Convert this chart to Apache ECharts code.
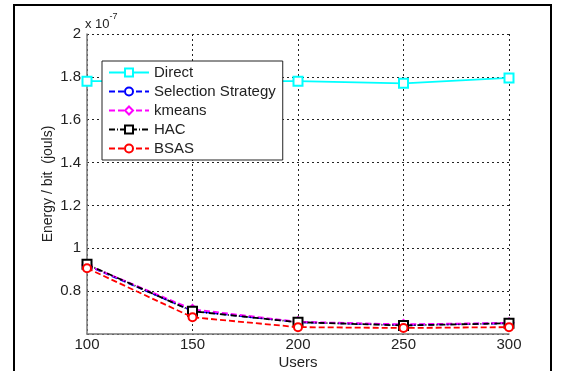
<!DOCTYPE html>
<html>
<head>
<meta charset="utf-8">
<script src="https://cdn.jsdelivr.net/npm/echarts@6/dist/echarts.min.js"></script>
<style>
  html, body { margin: 0; padding: 0; background: #fff; }
  #main { width: 563px; height: 371px; }
</style>
</head>
<body>
<div id="main"></div>
<script>
// users on x axis, energy per bit in units of 1e-7
var users = [100, 150, 200, 250, 300];
var direct = [1.78, 1.78, 1.78, 1.77, 1.795];
var selection = [0.92, 0.708, 0.655, 0.642, 0.65];
var kmeans = [0.922, 0.715, 0.657, 0.645, 0.652];
var hac = [0.925, 0.706, 0.655, 0.64, 0.65];
var bsas = [0.907, 0.678, 0.632, 0.628, 0.632];
var xTicks = [100, 150, 200, 250, 300];
var yTicks = [0.6, 0.8, 1, 1.2, 1.4, 1.6, 1.8, 2];

function pairs(vals) {
    return users.map(function (u, i) { return [u, vals[i]]; });
}

var font = 'Liberation Sans, Arial, sans-serif';

var option = {
    animation: false,
    backgroundColor: '#fff',
    grid: {
        left: 87,
        right: 54,
        top: 34,
        bottom: 37,
        outerBoundsMode: 'none',
        containLabel: false
    },
    xAxis: {
        type: 'value',
        min: xTicks[0],
        max: xTicks[xTicks.length - 1],
        interval: 50,
        name: 'Users',
        nameLocation: 'middle',
        nameGap: 21,
        nameMoveOverlap: false,
        nameTextStyle: { color: '#222', fontSize: 15, fontFamily: font },
        // axis line
        axisLine: { show: true, lineStyle: { color: '#7a7a7a', width: 1.5 } },
        axisTick: { show: false },
        axisLabel: { color: '#222', fontSize: 15, fontFamily: font, margin: 3 },
        splitLine: {
            show: true,
            lineStyle: { color: '#222', type: [2, 3], width: 1 }
        }
    },
    yAxis: {
        type: 'value',
        min: yTicks[0],
        max: yTicks[yTicks.length - 1],
        interval: 0.2,
        name: 'Energy / bit  (jouls)',
        nameLocation: 'middle',
        nameGap: 32,
        nameMoveOverlap: false,
        nameTextStyle: { color: '#222', fontSize: 14, fontFamily: font },
        axisLine: { show: true, lineStyle: { color: '#7a7a7a', width: 1.5 } },
        axisTick: { show: false },
        axisLabel: {
            color: '#222', fontSize: 15, fontFamily: font, margin: 6,
            showMinLabel: false
        },
        splitLine: {
            show: true,
            lineStyle: { color: '#222', type: [2, 3], width: 1 }
        }
    },
    legend: {
        orient: 'vertical',
        left: 102,
        top: 61,
        padding: [3, 7, 3, 6],
        itemGap: 2,
        itemWidth: 40,
        itemHeight: 10,
        backgroundColor: '#fff',
        borderColor: '#222',
        borderWidth: 1,
        borderRadius: 0,
        textStyle: { color: '#222', fontSize: 15, fontFamily: font, lineHeight: 17 },
        data: ['Direct', 'Selection Strategy', 'kmeans', 'HAC', 'BSAS']
    },
    graphic: [
        {
            type: 'rect',
            shape: { x: 14, y: 5, width: 537, height: 380 },
            style: { fill: 'none', stroke: '#000', lineWidth: 2 },
            silent: true
        },
        {
            type: 'text',
            left: 85,
            top: 12,
            style: {
                text: '{b|x 10}{s|-7}',
                rich: {
                    b: { fontSize: 13, fontFamily: font, fill: '#222', verticalAlign: 'bottom', padding: [6, 0, 0, 0] },
                    s: { fontSize: 9, fontFamily: font, fill: '#222', verticalAlign: 'top' }
                }
            }
        }
    ],
    series: [
        {
            name: 'Direct',
            type: 'line',
            data: pairs(direct),
            symbol: 'emptyRect',
            symbolSize: 9,
            color: '#00ffff',
            lineStyle: { width: 1.8, type: 'solid' },
            itemStyle: { borderWidth: 1.5 },
            z: 2
        },
        {
            name: 'Selection Strategy',
            type: 'line',
            data: pairs(selection),
            symbol: 'emptyCircle',
            symbolSize: 8,
            color: '#0000ff',
            lineStyle: { width: 1.8, type: [6, 3] },
            itemStyle: { borderWidth: 1.5 },
            z: 3
        },
        {
            name: 'kmeans',
            type: 'line',
            data: pairs(kmeans),
            symbol: 'emptyDiamond',
            symbolSize: 9,
            color: '#ff00ff',
            lineStyle: { width: 1.8, type: [6, 3] },
            itemStyle: { borderWidth: 1.5 },
            z: 4
        },
        {
            name: 'HAC',
            type: 'line',
            data: pairs(hac),
            symbol: 'emptyRect',
            symbolSize: 9,
            color: '#000000',
            lineStyle: { width: 1.8, type: [6, 2, 1, 2] },
            itemStyle: { borderWidth: 1.5 },
            z: 5
        },
        {
            name: 'BSAS',
            type: 'line',
            data: pairs(bsas),
            symbol: 'emptyCircle',
            symbolSize: 8,
            color: '#ff0000',
            lineStyle: { width: 1.8, type: [6, 3] },
            itemStyle: { borderWidth: 1.5 },
            z: 6
        }
    ]
};

var chart = echarts.init(document.getElementById('main'));
chart.setOption(option);
</script>
</body>
</html>
